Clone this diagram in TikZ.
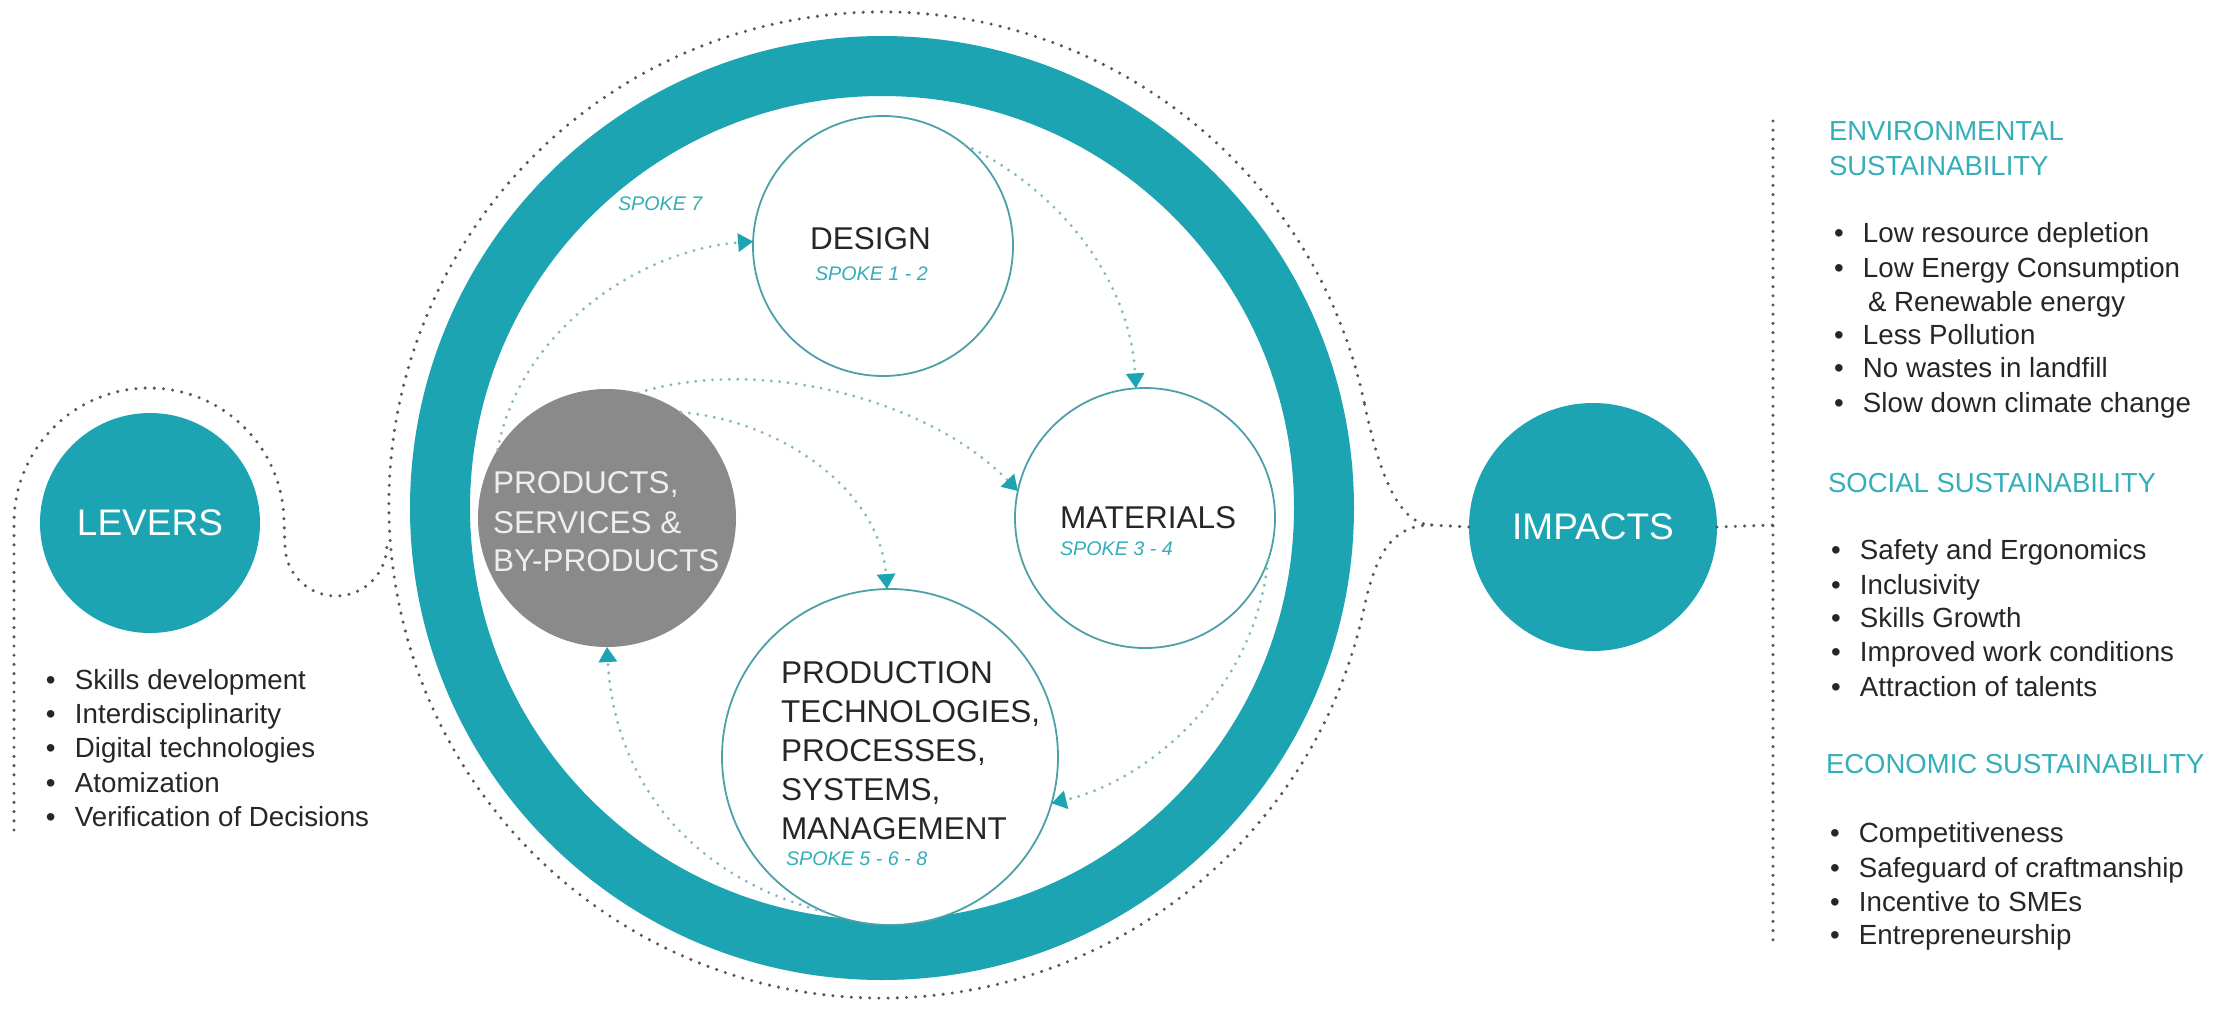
\documentclass[tikz,border=0pt]{standalone}
\usepackage{fontspec}
\setmainfont{Liberation Sans}
\usetikzlibrary{arrows.meta,calc}
\definecolor{teal1}{RGB}{28,164,178}
\definecolor{tealtxt}{RGB}{52,174,184}
\definecolor{ringline}{RGB}{78,160,168}
\definecolor{dotin}{RGB}{130,186,192}
\definecolor{dotout}{RGB}{85,85,90}
\definecolor{grayc}{RGB}{138,138,138}
\definecolor{graytext}{RGB}{238,238,238}
\definecolor{txt}{RGB}{38,38,38}
\newcommand\myfs[1]{\fontsize{#1}{#1}\selectfont}
\newcommand\blt{\makebox[14.5pt][l]{•}}
\begin{document}
\begin{tikzpicture}[x=0.5pt,y=-0.5pt,
  outerdots/.style={draw=dotout, line width=1.7pt, line cap=round, dash pattern=on 0pt off 4.6pt},
  innerdots/.style={draw=dotin, line width=1.6pt, line cap=round, dash pattern=on 0pt off 4.2pt,
    -{Triangle[length=7.5pt,width=9pt,color=teal1]}},
  lst/.style={anchor=base west, inner sep=0, outer sep=0, text=txt, font=\myfs{13.85pt}},
  hd/.style={anchor=base west, inner sep=0, outer sep=0, text=tealtxt, font=\myfs{13.75pt}},
  big/.style={anchor=base west, inner sep=0, outer sep=0, text=txt, font=\myfs{15.75pt}},
  gtx/.style={anchor=base west, inner sep=0, outer sep=0, text=graytext, font=\myfs{15.75pt}},
  spk/.style={anchor=base west, inner sep=0, outer sep=0, text=tealtxt, font=\myfs{9.85pt}\itshape},
  solidc/.style={circle, fill=teal1, inner sep=0, outer sep=0, text=white, font=\myfs{18.5pt}},
  ringc/.style={circle, draw=ringline, line width=0.9pt, fill=white, inner sep=0, outer sep=0}
]
\useasboundingbox (0,0) rectangle (2240,1019);
\fill[white] (0,0) rectangle (2240,1019);

% big ring
\node[circle, draw=teal1, line width=30pt, minimum size=442pt, inner sep=0] (ring) at (882,508) {};

% side circles
\node[solidc, minimum size=110pt] (levers) at (150,523) {LEVERS};
\node[solidc, minimum size=124pt] (impacts) at (1593,527) {IMPACTS};

% inner circles
\node[circle, fill=grayc, minimum size=129pt, inner sep=0, outer sep=0] (gray) at (607,518) {};
\node[ringc, minimum size=130pt] (design) at (883,246) {};
\node[ringc, minimum size=130pt] (materials) at (1145,518) {};
\node[ringc, minimum size=168pt] (production) at (890,757) {};

% outer dotted frame around the ring, with the point towards IMPACTS
\coordinate (cusp) at (1432,525);
\draw[outerdots] (1364.2,402.5) arc[start angle=348, end angle=12, radius=493]
  .. controls (1376.7,548.8) and (1395,525) .. (cusp)
  .. controls (1395,525) and (1376.7,461.2) .. (1364.2,402.5);
\draw[outerdots] (cusp) -- (impacts.west);

% LEVERS loop
\coordinate (lvbot) at (14,830);
\draw[outerdots] (lvbot) -- (14,523) arc[start angle=180, end angle=360, radius=135]
  -- (285,545) arc[start angle=180, end angle=0, radius=51];

% right vertical dotted line
\coordinate (rtop) at (1773,121);
\coordinate (rbot) at (1773,943);
\coordinate (rmid) at (1773,525);
\draw[outerdots] (rtop) -- (rbot);
\draw[outerdots] (impacts.east) -- (rmid);

% inner dotted arrows
\draw[innerdots] (gray.148) .. controls (520,330) and (640,250) .. (design.178);
\draw[innerdots] (design.51) .. controls (1060,190) and (1130,280) .. (materials.94);
\draw[innerdots] (gray.76) .. controls (760,355) and (930,400) .. (materials.168);
\draw[innerdots] (gray.55) .. controls (780,420) and (880,490) .. (production.91);
\draw[innerdots] (materials.341) .. controls (1255,690) and (1150,780) .. (production.344);
\draw[innerdots] (production.247) .. controls (700,880) and (615,790) .. (gray.270);

% texts inside circles
\node[gtx] (g1) at (493,493) {PRODUCTS,};
\node[gtx] (g2) at (493,533) {SERVICES \&};
\node[gtx] (g3) at (493,571) {BY-PRODUCTS};

\node[big] (d1) at (810,249) {DESIGN};
\node[spk] (d2) at (815,280) {SPOKE 1 - 2};
\node[spk] (s7) at (618,210) {SPOKE 7};

\node[big] (m1) at (1060,528) {MATERIALS};
\node[spk] (m2) at (1060,555) {SPOKE 3 - 4};

\node[big] (p1) at (781,683) {PRODUCTION};
\node[big] (p2) at (781,722) {TECHNOLOGIES,};
\node[big] (p3) at (781,761) {PROCESSES,};
\node[big] (p4) at (781,800) {SYSTEMS,};
\node[big] (p5) at (781,839) {MANAGEMENT};
\node[spk] (p6) at (786,865) {SPOKE 5 - 6 - 8};

% levers list
\node[lst] (l1) at (46,689) {\blt Skills development};
\node[lst] (l2) at (46,723) {\blt Interdisciplinarity};
\node[lst] (l3) at (46,757) {\blt Digital technologies};
\node[lst] (l4) at (46,792) {\blt Atomization};
\node[lst] (l5) at (46,826) {\blt Verification of Decisions};

% impacts lists
\node[hd] (h1) at (1829,140) {ENVIRONMENTAL};
\node[hd] (h2) at (1829,175) {SUSTAINABILITY};
\node[lst] (e1) at (1834,242) {\blt Low resource depletion};
\node[lst] (e2) at (1834,277) {\blt Low Energy Consumption};
\node[lst] (e3) at (1868,311) {\& Renewable energy};
\node[lst] (e4) at (1834,344) {\blt Less Pollution};
\node[lst] (e5) at (1834,377) {\blt No wastes in landfill};
\node[lst] (e6) at (1834,412) {\blt Slow down climate change};

\node[hd] (h3) at (1828,492) {SOCIAL SUSTAINABILITY};
\node[lst] (s1) at (1831,559) {\blt Safety and Ergonomics};
\node[lst] (s2) at (1831,594) {\blt Inclusivity};
\node[lst] (s3) at (1831,627) {\blt Skills Growth};
\node[lst] (s4) at (1831,661) {\blt Improved work conditions};
\node[lst] (s5) at (1831,696) {\blt Attraction of talents};

\node[hd] (h4) at (1826,773) {ECONOMIC SUSTAINABILITY};
\node[lst] (c1) at (1830,842) {\blt Competitiveness};
\node[lst] (c2) at (1830,877) {\blt Safeguard of craftmanship};
\node[lst] (c3) at (1830,911) {\blt Incentive to SMEs};
\node[lst] (c4) at (1830,944) {\blt Entrepreneurship};
\end{tikzpicture}
\end{document}
